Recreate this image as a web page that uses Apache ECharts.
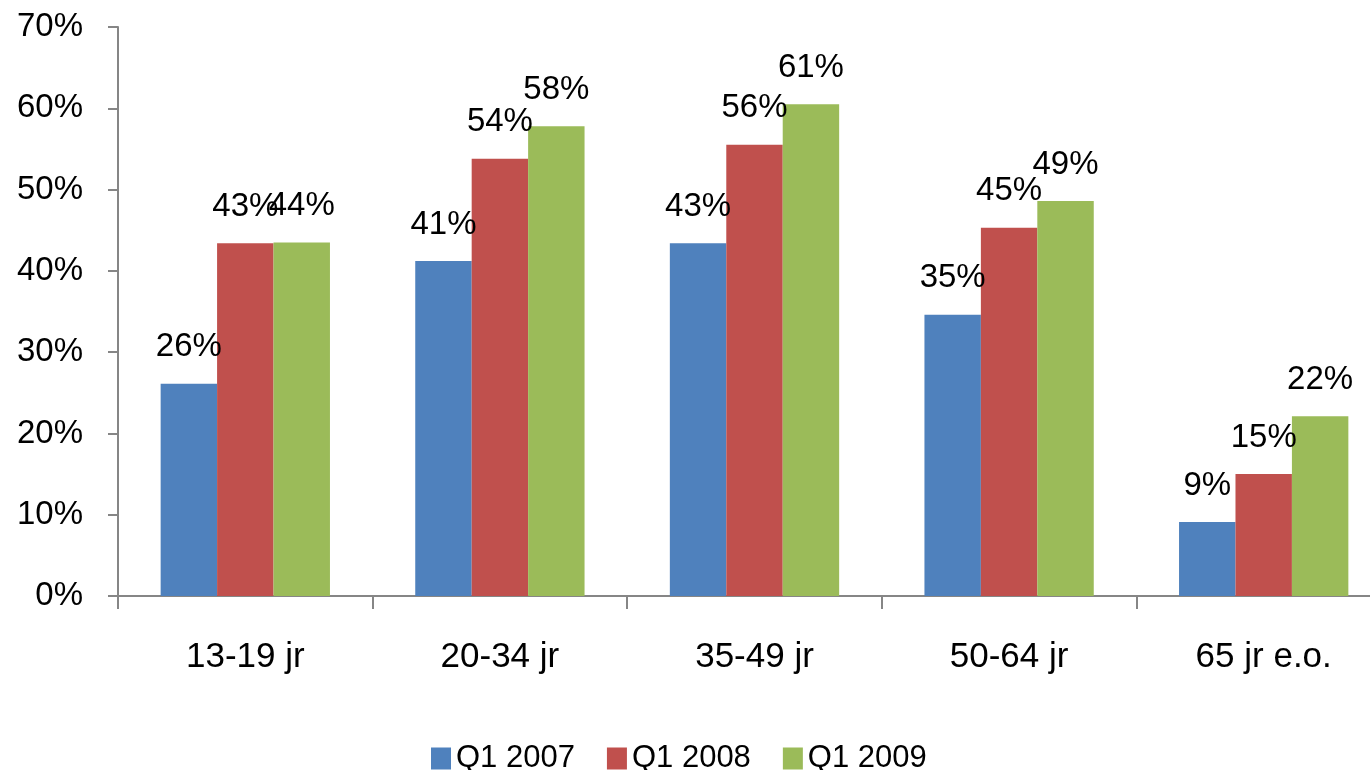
<!DOCTYPE html>
<html>
<head>
<meta charset="utf-8">
<script src="https://cdn.jsdelivr.net/npm/echarts@6/dist/echarts.min.js"></script>
<style>
html,body{margin:0;padding:0;background:#fff;overflow:hidden;width:1370px;height:770px;}
#chart{width:1391px;height:770px;}
</style>
</head>
<body>
<div id="chart"></div>
<script>
const categories = ['13-19 jr', '20-34 jr', '35-49 jr', '50-64 jr', '65 jr e.o.'];
const seriesNames = ['Q1 2007', 'Q1 2008', 'Q1 2009'];
const q1_2007 = [26.1, 41.2, 43.4, 34.6, 9.1];
const q1_2008 = [43.4, 53.8, 55.5, 45.3, 15.0];
const q1_2009 = [43.5, 57.8, 60.5, 48.6, 22.1];
const yTicks = { min: 0, max: 70, interval: 10 };
const colors = ['#4F81BD', '#C0504D', '#9BBB59'];

const FONT = 'Liberation Sans';
const chart = echarts.init(document.getElementById('chart'));
const values = [q1_2007, q1_2008, q1_2009];

chart.setOption({
  animation: false,
  backgroundColor: '#ffffff',
  textStyle: { fontFamily: FONT },
  grid: { left: 118, right: 0, top: 27, bottom: 174, containLabel: false },
  legend: {
    left: 426, top: 738,
    itemWidth: 20, itemHeight: 22, itemGap: 32,
    icon: 'rect',
    textStyle: { fontSize: 31, color: '#000', fontFamily: FONT },
    data: seriesNames
  },
  xAxis: {
    type: 'category',
    data: categories,
    axisLine: { show: true, lineStyle: { color: '#868686', width: 2 } },
    axisTick: { show: true, length: 13, lineStyle: { color: '#868686', width: 2 } },
    axisLabel: { fontSize: 35, color: '#000', margin: 44, fontFamily: FONT }
  },
  yAxis: {
    type: 'value',
    min: yTicks.min, max: yTicks.max, interval: yTicks.interval,
    splitLine: { show: false },
    axisLine: { show: true, lineStyle: { color: '#868686', width: 2 } },
    axisTick: { show: true, length: 10, lineStyle: { color: '#868686', width: 2 } },
    axisLabel: { fontSize: 33, color: '#000', margin: 35, formatter: '{value}%', fontFamily: FONT }
  },
  series: seriesNames.map((name, i) => ({
    name: name,
    type: 'bar',
    data: values[i],
    barGap: '0%',
    barCategoryGap: '33.5%',
    itemStyle: { color: colors[i] },
    label: {
      show: true,
      position: 'top',
      distance: 20,
      fontSize: 33,
      color: '#000',
      fontFamily: FONT,
      formatter: p => Math.round(p.value) + '%'
    }
  }))
});
</script>
</body>
</html>
